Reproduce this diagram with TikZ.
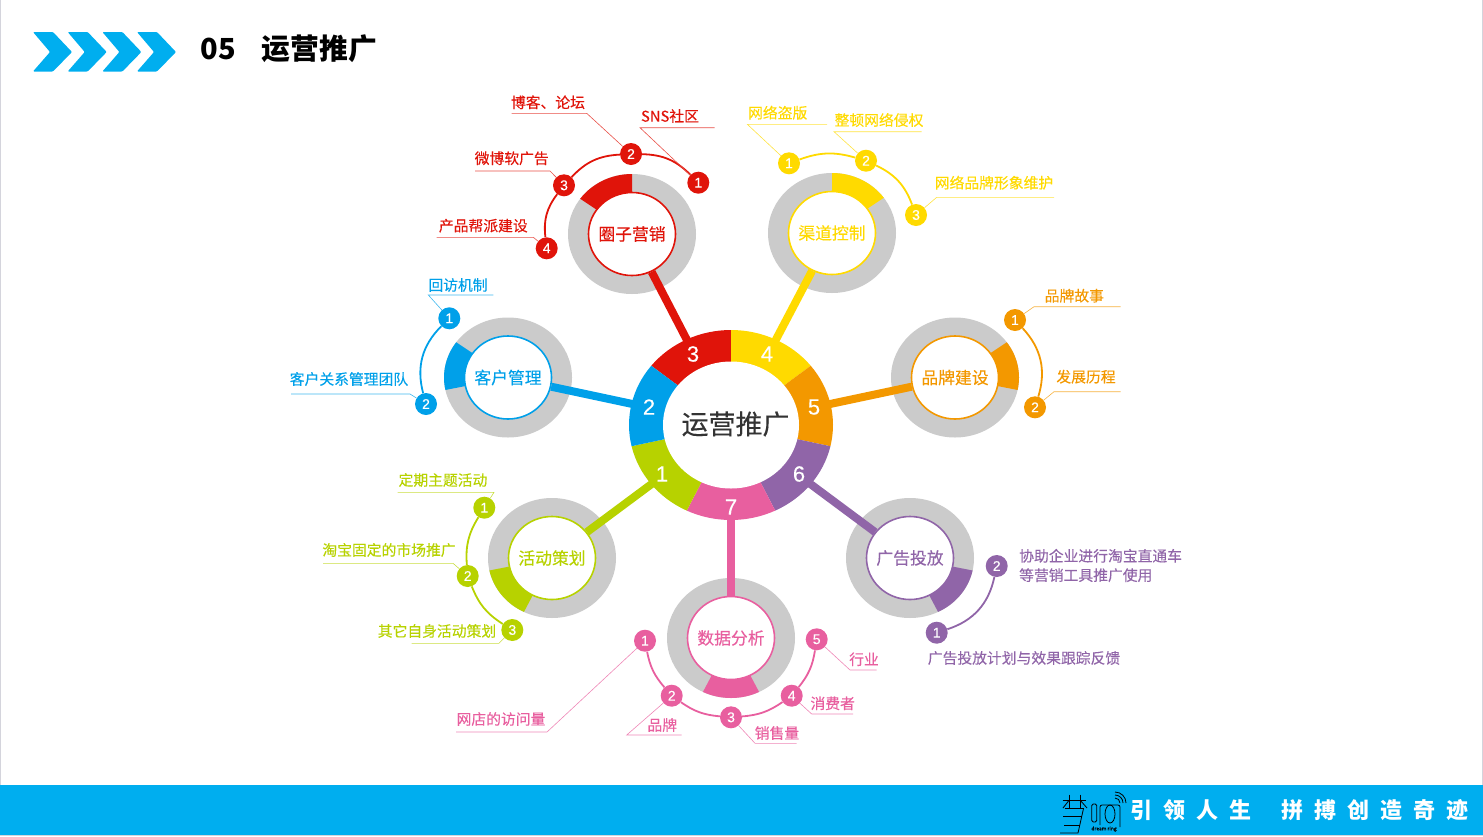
\documentclass[tikz,border=0pt]{standalone}
\usepackage{fontspec}
\usetikzlibrary{positioning, backgrounds, shapes.geometric}
\setmainfont{Noto Sans CJK SC}[UprightFeatures={FakeBold=0.25}]
\newfontfamily\numfont{Liberation Sans}[FakeBold=0.25]
\definecolor{markRed}{HTML}{E0140A}
\definecolor{markYellow}{HTML}{FFDA00}
\definecolor{markOrange}{HTML}{F39800}
\definecolor{markPurple}{HTML}{9065A8}
\definecolor{markPink}{HTML}{E85F9F}
\definecolor{markGreen}{HTML}{B7D200}
\definecolor{markBlue}{HTML}{00A0E9}
\definecolor{ringGray}{HTML}{CBCBCB}
\definecolor{barBlue}{HTML}{00AEEF}
\definecolor{edgeGray}{HTML}{D4D4DC}
\newcommand{\px}[1]{\fontsize{#1}{#1}\selectfont}
\tikzset{
  satnode/.style={ellipse, fill=white, draw=#1, line width=1.6pt, minimum width=87pt,
    minimum height=83pt, inner sep=0pt},
  sattext/.style={text=#1, inner sep=0pt, font=\px{16.8}},
  subnum/.style={circle, fill=#1, text=white, minimum size=22pt, inner sep=0pt,
    font=\numfont\px{14}},
  hubnum/.style={text=white, inner sep=0pt, font=\numfont\px{22}},
  tag/.style={text=#1, inner sep=0pt, font=\px{14.8}},
  leader/.style={line width=0.6pt, #1!75},
  arcline/.style={line width=1.8pt, #1},
  spoke/.style={line width=8pt, #1}
}
\begin{document}
\begin{tikzpicture}[x=1pt, y=-1pt]
  \useasboundingbox (0,0) rectangle (1483,836);
  \draw[edgeGray, line width=1pt] (0.5,0) -- (0.5,836);
  \draw[edgeGray, line width=1pt] (1482,0) -- (1482,836);
  \draw[edgeGray, line width=1pt] (0,835.5) -- (1483,835.5);
  \fill[barBlue] (0,785) rectangle (1483,835);

  % header
  \foreach \xs in {33,67.7,102.4,137}
    \fill[barBlue, rounded corners=1pt, xshift=\xs pt]
      (0,32) -- (20,32) -- (39,52) -- (20,71.5) -- (0,71.5) -- (17,52) -- cycle;
  \node[inner sep=0pt, font=\bfseries\px{29}] (pageNo) at (218,48.5) {05};
  \node[inner sep=0pt, font=\bfseries\px{28.8}] (pageTitle) at (319.5,49) {运营推广};

  % footer
  \node[inner sep=0pt, text=white, font=\bfseries\px{22}] (motto) at (1299.5,810)
    {\addfontfeature{LetterSpace=50}引领人生\hspace{13pt} 拼搏创造奇迹};
  \begin{scope}[line width=0.8pt, black]
    \draw (1062.7,800) -- (1086,800);
    \draw (1069.3,794.5) -- (1069.3,808) (1080,794.5) -- (1080,808);
    \draw (1069.3,800) -- (1063,808) (1080,800) -- (1087,808);
    \draw (1065,808.5) -- (1083.5,808.5) -- (1078,833) -- (1060,833);
    \draw (1063,816.7) -- (1081.7,816.7) (1064,825) -- (1079.5,825);
    \draw[rounded corners=1.5pt] (1091.7,804) rectangle (1096.7,822);
    \draw[rounded corners=2pt] (1100,825) -- (1100,805) -- (1120,805) -- (1120,827);
    \draw (1110,814) ellipse (5 and 9);
    \draw (1115,798) arc[start angle=-90, end angle=0, radius=5];
    \draw (1115,795) arc[start angle=-90, end angle=0, radius=8];
    \draw (1115,792) arc[start angle=-90, end angle=0, radius=11];
  \end{scope}
  \node[inner sep=0pt, font=\px{5}] (logoTag) at (1104,829) {dream ring};

  % hub and its satellites
  \node[ellipse, fill=white, minimum width=136pt, minimum height=127pt, inner sep=0pt] (hub) at (731,425) {};
  \node[inner sep=0pt, text=black!80, font=\px{27}] (hubText) at (735.5,424) {运营推广};
  \node[satnode=markRed, label={[sattext=markRed]center:圈子营销}] (satRed) at (632,234) {};
  \node[satnode=markYellow, label={[sattext=markYellow]center:渠道控制}] (satYellow) at (832,233) {};
  \node[satnode=markOrange, label={[sattext=markOrange]center:品牌建设}] (satOrange) at (955,377.5) {};
  \node[satnode=markPurple, label={[sattext=markPurple]center:广告投放}] (satPurple) at (910,558) {};
  \node[satnode=markPink, label={[sattext=markPink]center:数据分析}] (satPink) at (731,638) {};
  \node[satnode=markGreen, label={[sattext=markGreen]center:活动策划}] (satGreen) at (552,558) {};
  \node[satnode=markBlue, label={[sattext=markBlue]center:客户管理}] (satBlue) at (508,377.5) {};

  \begin{scope}[on background layer]
    \foreach \sat/\col/\from/\to in {satRed/markRed/-90/-144, satYellow/markYellow/-90/-36,
        satOrange/markOrange/-36/12, satPurple/markPurple/12/64, satPink/markPink/64/116,
        satGreen/markGreen/116/168, satBlue/markBlue/-144/-192} {
      \fill[ringGray] (\sat) ellipse (64 and 60);
      \fill[\col] ([shift={(\from:64 and 60)}]\sat.center)
        arc[start angle=\from, end angle=\to, x radius=64, y radius=60]
        -- ([shift={(\to:38 and 36)}]\sat.center)
        arc[start angle=\to, end angle=\from, x radius=38, y radius=36] -- cycle;
      \draw[spoke=\col] (hub) -- (\sat);
    }
    \foreach \col/\from/\to in {markRed/-90/-141.4, markYellow/-90/-38.6, markOrange/-38.6/12.9,
        markPurple/12.9/64.3, markPink/64.3/115.7, markGreen/115.7/167.1, markBlue/167.1/218.6}
      \fill[\col] ([shift={(\from:102 and 95)}]hub.center)
        arc[start angle=\from, end angle=\to, x radius=102, y radius=95]
        -- ([shift={(\to:60 and 56)}]hub.center)
        arc[start angle=\to, end angle=\from, x radius=60, y radius=56] -- cycle;
  \end{scope}

  \node[hubnum] (hubOne) at (662,474) {1};
  \node[hubnum] (hubTwo) at (649,407) {2};
  \node[hubnum] (hubThree) at (693,354) {3};
  \node[hubnum] (hubFour) at (767,354) {4};
  \node[hubnum] (hubFive) at (814,407) {5};
  \node[hubnum] (hubSix) at (799,474) {6};
  \node[hubnum] (hubSeven) at (731,507) {7};

  % red group
  \node[subnum=markRed] (redOne) at (698.3,182.7) {1};
  \node[subnum=markRed] (redTwo) at (631,154) {2};
  \node[subnum=markRed] (redThree) at (564,185.3) {3};
  \node[subnum=markRed] (redFour) at (546.7,248.3) {4};
  \draw[arcline=markRed] (redOne) to[bend right=22] (redTwo);
  \draw[arcline=markRed] (redTwo) to[bend right=22] (redThree);
  \draw[arcline=markRed] (redThree) to[bend right=22] (redFour);
  \node[tag=markRed] (redOneText) at (670,116) {SNS社区};
  \node[tag=markRed] (redTwoText) at (548,102.3) {博客、论坛};
  \node[tag=markRed] (redThreeText) at (511.7,158.3) {微博软广告};
  \node[tag=markRed] (redFourText) at (483.3,225.7) {产品帮派建设};
  \draw[leader=markRed] (redOne) -- (640,127.7) coordinate (redOneKnee) -- (714.7,127.7) coordinate (redOneEnd);
  \draw[leader=markRed] (redTwo) -- (586.7,113.3) coordinate (redTwoKnee) -- (511.7,113.3) coordinate (redTwoEnd);
  \draw[leader=markRed] (redThree) -- (550,171) coordinate (redThreeKnee) -- (475,171) coordinate (redThreeEnd);
  \draw[leader=markRed] (redFour) -- (533.3,237.3) coordinate (redFourKnee) -- (436.7,237.3) coordinate (redFourEnd);

  % yellow group
  \node[subnum=markYellow] (yellowOne) at (789,163.3) {1};
  \node[subnum=markYellow] (yellowTwo) at (866,160.7) {2};
  \node[subnum=markYellow] (yellowThree) at (916,215) {3};
  \draw[arcline=markYellow] (yellowOne) to[bend left=18] (yellowTwo);
  \draw[arcline=markYellow] (yellowTwo) to[bend left=22] (yellowThree);
  \node[tag=markYellow] (yellowOneText) at (777.7,112.7) {网络盗版};
  \node[tag=markYellow] (yellowTwoText) at (879,120) {整顿网络侵权};
  \node[tag=markYellow] (yellowThreeText) at (994,182.7) {网络品牌形象维护};
  \draw[leader=markYellow] (yellowOne) -- (747.3,124.3) coordinate (yellowOneKnee) -- (827,124.3) coordinate (yellowOneEnd);
  \draw[leader=markYellow] (yellowTwo) -- (834,131.7) coordinate (yellowTwoKnee) -- (921.7,131.7) coordinate (yellowTwoEnd);
  \draw[leader=markYellow] (yellowThree) -- (936.7,197.3) coordinate (yellowThreeKnee) -- (1054,197.3) coordinate (yellowThreeEnd);

  % orange group
  \node[subnum=markOrange] (orangeOne) at (1015,320) {1};
  \node[subnum=markOrange] (orangeTwo) at (1035,407.3) {2};
  \draw[arcline=markOrange] (orangeOne) to[bend left=30] (orangeTwo);
  \node[tag=markOrange] (orangeOneText) at (1074.3,295.7) {品牌故事};
  \node[tag=markOrange] (orangeTwoText) at (1086,376.7) {发展历程};
  \draw[leader=markOrange] (orangeOne) -- (1034,306.7) coordinate (orangeOneKnee) -- (1120.7,306.7) coordinate (orangeOneEnd);
  \draw[leader=markOrange] (orangeTwo) -- (1054,391.7) coordinate (orangeTwoKnee) -- (1120.7,391.7) coordinate (orangeTwoEnd);

  % purple group
  \node[subnum=markPurple] (purpleOne) at (936.7,632.7) {1};
  \node[subnum=markPurple] (purpleTwo) at (996.7,566) {2};
  \draw[arcline=markPurple] (purpleTwo) to[bend left=30] (purpleOne);
  \node[tag=markPurple, align=left, anchor=west, font=\fontsize{14.8}{19.3}\selectfont] (purpleTwoText) at (1019,565.5)
    {协助企业进行淘宝直通车\\等营销工具推广使用};
  \node[tag=markPurple] (purpleOneText) at (1024,658) {广告投放计划与效果跟踪反馈};

  % pink group
  \node[subnum=markPink] (pinkOne) at (645,640.7) {1};
  \node[subnum=markPink] (pinkTwo) at (671.7,695.7) {2};
  \node[subnum=markPink] (pinkThree) at (731,717.3) {3};
  \node[subnum=markPink] (pinkFour) at (791.7,695.7) {4};
  \node[subnum=markPink] (pinkFive) at (816.7,639.3) {5};
  \draw[arcline=markPink] (pinkOne) to[bend right=15] (pinkTwo);
  \draw[arcline=markPink] (pinkTwo) to[bend right=15] (pinkThree);
  \draw[arcline=markPink] (pinkThree) to[bend right=15] (pinkFour);
  \draw[arcline=markPink] (pinkFour) to[bend right=15] (pinkFive);
  \node[tag=markPink] (pinkOneText) at (501,719) {网店的访问量};
  \node[tag=markPink] (pinkTwoText) at (662.3,725) {品牌};
  \node[tag=markPink] (pinkThreeText) at (777,733) {销售量};
  \node[tag=markPink] (pinkFourText) at (832.7,703.3) {消费者};
  \node[tag=markPink] (pinkFiveText) at (864,659.3) {行业};
  \draw[leader=markPink] (pinkOne) -- (547,732) coordinate (pinkOneKnee) -- (456,732) coordinate (pinkOneEnd);
  \draw[leader=markPink] (pinkTwo) -- (626.7,735) coordinate (pinkTwoKnee) -- (681.7,735) coordinate (pinkTwoEnd);
  \draw[leader=markPink] (pinkThree) -- (755,743.3) coordinate (pinkThreeKnee) -- (796.7,743.3) coordinate (pinkThreeEnd);
  \draw[leader=markPink] (pinkFour) -- (811.7,714) coordinate (pinkFourKnee) -- (853,714) coordinate (pinkFourEnd);
  \draw[leader=markPink] (pinkFive) -- (850,670) coordinate (pinkFiveKnee) -- (876.7,670) coordinate (pinkFiveEnd);

  % green group
  \node[subnum=markGreen] (greenOne) at (484.3,507.7) {1};
  \node[subnum=markGreen] (greenTwo) at (467.7,576) {2};
  \node[subnum=markGreen] (greenThree) at (512.3,630) {3};
  \draw[arcline=markGreen] (greenOne) to[bend right=18] (greenTwo);
  \draw[arcline=markGreen] (greenTwo) to[bend right=18] (greenThree);
  \node[tag=markGreen] (greenOneText) at (443,480) {定期主题活动};
  \node[tag=markGreen] (greenTwoText) at (389,550) {淘宝固定的市场推广};
  \node[tag=markGreen] (greenThreeText) at (437,631) {其它自身活动策划};
  \draw[leader=markGreen] (greenOne) -- (494,492.3) coordinate (greenOneKnee) -- (397.7,492.3) coordinate (greenOneEnd);
  \draw[leader=markGreen] (greenTwo) -- (453,563.3) coordinate (greenTwoKnee) -- (323,563.3) coordinate (greenTwoEnd);
  \draw[leader=markGreen] (greenThree) -- (499,643.3) coordinate (greenThreeKnee) -- (411.7,643.3) coordinate (greenThreeEnd);

  % blue group
  \node[subnum=markBlue] (blueOne) at (449.3,318.3) {1};
  \node[subnum=markBlue] (blueTwo) at (426,404) {2};
  \draw[arcline=markBlue] (blueOne) to[bend right=30] (blueTwo);
  \node[tag=markBlue] (blueOneText) at (458,285) {回访机制};
  \node[tag=markBlue] (blueTwoText) at (349,379) {客户关系管理团队};
  \draw[leader=markBlue] (blueOne) -- (428.3,295) coordinate (blueOneKnee) -- (493.3,295) coordinate (blueOneEnd);
  \draw[leader=markBlue] (blueTwo) -- (410,394) coordinate (blueTwoKnee) -- (291,394) coordinate (blueTwoEnd);
\end{tikzpicture}
\end{document}
